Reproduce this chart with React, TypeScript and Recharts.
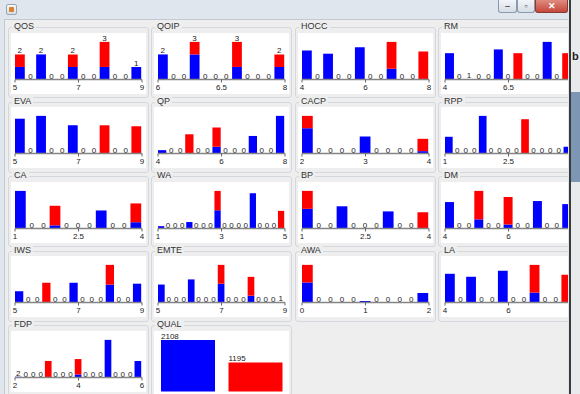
import { BarChart, ComposedChart, Bar, Line, XAxis, YAxis, LabelList, Cell } from "recharts";

// Per-bin counts, blue series stacked under red series
const QOS_BLUE = [1, 0, 2, 0, 0, 1, 0, 0, 1, 0, 0, 1];
const QOS_RED = [1, 0, 0, 0, 0, 1, 0, 0, 2, 0, 0, 0];
const QOS_TICKS = ["5", "7", "9"];

const QOIP_BLUE = [2, 0, 0, 2, 0, 0, 0, 1, 0, 0, 0, 1];
const QOIP_RED = [0, 0, 0, 1, 0, 0, 0, 2, 0, 0, 0, 1];
const QOIP_TICKS = ["6", "6.5", "8"];

const HOCC_BLUE = [27, 0, 24, 0, 0, 30, 0, 0, 10, 0, 0, 0];
const HOCC_RED = [0, 0, 0, 0, 0, 0, 0, 0, 25, 0, 0, 26];
const HOCC_TICKS = ["4", "6", "8"];

const RM_BLUE = [56, 0, 1, 0, 0, 64, 0, 0, 0, 0, 80, 0, 0];
const RM_RED = [0, 0, 0, 0, 0, 0, 0, 56, 0, 0, 0, 0, 56];
const RM_TICKS = ["4", "6.5"];

const EVA_BLUE = [37, 0, 40, 0, 0, 30, 0, 0, 0, 0, 0, 0];
const EVA_RED = [0, 0, 0, 0, 0, 0, 0, 0, 30, 0, 0, 29];
const EVA_TICKS = ["5", "7", "9"];

const QP_BLUE = [4, 0, 0, 0, 0, 0, 8, 0, 0, 0, 21, 0, 0, 45];
const QP_RED = [0, 0, 0, 23, 0, 0, 23, 0, 0, 0, 0, 0, 0, 0];
const QP_TICKS = ["4", "6", "8"];

const CACP_BLUE = [43, 0, 0, 0, 0, 29, 0, 0, 0, 0, 4];
const CACP_RED = [21, 0, 0, 0, 0, 0, 0, 0, 0, 0, 21];
const CACP_TICKS = ["2", "3", "4"];

const RPP_BLUE = [20, 0, 0, 0, 45, 0, 0, 0, 0, 0, 0, 0, 0, 0, 8];
const RPP_RED = [0, 0, 0, 0, 0, 0, 0, 0, 0, 41, 0, 0, 0, 0, 0];
const RPP_TICKS = ["1", "2.5"];

const CA_BLUE = [48, 0, 0, 4, 0, 0, 0, 23, 0, 0, 8];
const CA_RED = [0, 0, 0, 25, 0, 0, 0, 0, 0, 0, 24];
const CA_TICKS = ["1", "2.5", "4"];

const WA_BLUE = [4, 0, 0, 0, 11, 0, 0, 0, 31, 0, 0, 0, 0, 60, 0, 0, 0, 0];
const WA_RED = [0, 0, 0, 0, 0, 0, 0, 0, 33, 0, 0, 0, 0, 0, 0, 0, 0, 30];
const WA_TICKS = ["1", "3", "5"];

const BP_BLUE = [23, 0, 0, 26, 0, 0, 0, 20, 0, 0, 0];
const BP_RED = [21, 0, 0, 0, 0, 0, 0, 0, 0, 0, 19];
const BP_TICKS = ["1", "2.5", "4"];

const DM_BLUE = [26, 0, 0, 9, 0, 0, 4, 0, 0, 27, 0, 0, 24];
const DM_RED = [0, 0, 0, 28, 0, 0, 27, 0, 0, 0, 0, 0, 0];
const DM_TICKS = ["4", "6"];

const IWS_BLUE = [12, 0, 0, 0, 0, 0, 21, 0, 0, 0, 19, 0, 0, 20];
const IWS_RED = [0, 0, 0, 21, 0, 0, 0, 0, 0, 0, 21, 0, 0, 0];
const IWS_TICKS = ["5", "7", "9"];

const EMTE_BLUE = [42, 0, 0, 0, 54, 0, 0, 0, 44, 0, 0, 0, 16, 0, 0, 0, 1];
const EMTE_RED = [0, 0, 0, 0, 0, 0, 0, 0, 44, 0, 0, 0, 44, 0, 0, 0, 0];
const EMTE_TICKS = ["5", "7", "9"];

const AWA_BLUE = [57, 0, 0, 0, 0, 4, 0, 0, 0, 0, 27];
const AWA_RED = [50, 0, 0, 0, 0, 0, 0, 0, 0, 0, 0];
const AWA_TICKS = ["0", "1", "2"];

const LA_BLUE = [29, 0, 26, 0, 0, 32, 0, 0, 10, 0, 0, 0];
const LA_RED = [0, 0, 0, 0, 0, 0, 0, 0, 28, 0, 0, 28];
const LA_TICKS = ["4", "6"];

const FDP_BLUE = [2, 0, 0, 0, 0, 0, 0, 0, 8, 0, 0, 0, 100, 0, 0, 0, 44];
const FDP_RED = [0, 0, 0, 0, 44, 0, 0, 0, 41, 0, 0, 0, 0, 0, 0, 0, 0];
const FDP_TICKS = ["2", "4", "6"];

const QUAL_VALUES = [2108, 1195];

const HISTOGRAMS = [
  { title: "QOS", blue: QOS_BLUE, red: QOS_RED, ticks: QOS_TICKS },
  { title: "QOIP", blue: QOIP_BLUE, red: QOIP_RED, ticks: QOIP_TICKS },
  { title: "HOCC", blue: HOCC_BLUE, red: HOCC_RED, ticks: HOCC_TICKS },
  { title: "RM", blue: RM_BLUE, red: RM_RED, ticks: RM_TICKS },
  { title: "EVA", blue: EVA_BLUE, red: EVA_RED, ticks: EVA_TICKS },
  { title: "QP", blue: QP_BLUE, red: QP_RED, ticks: QP_TICKS },
  { title: "CACP", blue: CACP_BLUE, red: CACP_RED, ticks: CACP_TICKS },
  { title: "RPP", blue: RPP_BLUE, red: RPP_RED, ticks: RPP_TICKS },
  { title: "CA", blue: CA_BLUE, red: CA_RED, ticks: CA_TICKS },
  { title: "WA", blue: WA_BLUE, red: WA_RED, ticks: WA_TICKS },
  { title: "BP", blue: BP_BLUE, red: BP_RED, ticks: BP_TICKS },
  { title: "DM", blue: DM_BLUE, red: DM_RED, ticks: DM_TICKS },
  { title: "IWS", blue: IWS_BLUE, red: IWS_RED, ticks: IWS_TICKS },
  { title: "EMTE", blue: EMTE_BLUE, red: EMTE_RED, ticks: EMTE_TICKS },
  { title: "AWA", blue: AWA_BLUE, red: AWA_RED, ticks: AWA_TICKS },
  { title: "LA", blue: LA_BLUE, red: LA_RED, ticks: LA_TICKS },
  { title: "FDP", blue: FDP_BLUE, red: FDP_RED, ticks: FDP_TICKS },
];

const COL_X = [8, 151, 295, 438];
const ROW_Y = [27, 101.6, 176.2, 250.8, 325.4];
const CHART_W = 135;
const CHART_H = 61;
const FONT = '"Liberation Sans", Arial, sans-serif';

function Frame({ title, x, y }: { title: string; x: number; y: number }) {
  return (
    <>
      <div
        style={{
          position: "absolute",
          left: x,
          top: y,
          width: 139,
          height: 69,
          border: "1px solid #d3d8de",
          borderRadius: 3,
        }}
      />
      <div
        style={{
          position: "absolute",
          left: x + 4,
          top: y - 6,
          padding: "0 2px",
          background: "#eeeeee",
          font: `9px ${FONT}`,
          lineHeight: "11px",
          color: "#333",
        }}
      >
        {title}
      </div>
    </>
  );
}

// counts of 3 or less are printed just above the stack (zeros sit on the axis)
const renderTotal = (p: any) => {
  const key = `t${p.index}`;
  if (p.payload.total > 3 || p.cx == null) return <g key={key} />;
  return (
    <text key={key} x={p.cx - 0.5} y={p.cy - 1} textAnchor="middle" fontSize={8} fontFamily={FONT} fill="#222">
      {p.payload.total}
    </text>
  );
};

function Histogram({ title, blue, red, ticks, index }: any) {
  const col = index % 4;
  const row = Math.floor(index / 4);
  const x = COL_X[col];
  const y = ROW_Y[row];
  const n = blue.length;
  const rows = blue.map((b: number, i: number) => ({ x: i + 0.5, blue: b, red: red[i], total: b + red[i] }));
  const max = Math.max(...rows.map((r: any) => r.total));
  const binW = (CHART_W - 8) / n;
  const tickPos = [0, n / 2, n].slice(0, ticks.length);

  return (
    <>
      <Frame title={title} x={x} y={y} />
      <div style={{ position: "absolute", left: x + 3, top: y + 5.5, width: CHART_W, height: CHART_H, background: "#fff" }}>
        <ComposedChart width={CHART_W} height={CHART_H} data={rows} margin={{ top: 7, right: 4, bottom: 0, left: 4 }}>
          <XAxis
            type="number"
            dataKey="x"
            domain={[0, n]}
            ticks={tickPos}
            interval={0}
            tickFormatter={(_v: number, i: number) => ticks[i]}
            height={14.5}
            tickSize={3}
            tickMargin={2}
            axisLine={{ stroke: "#858585", strokeWidth: 1.5 }}
            tickLine={{ stroke: "#666" }}
            tick={{ fontSize: 8, fill: "#222", fontFamily: FONT }}
          />
          <YAxis hide domain={[0, max * 1.05]} />
          <Bar dataKey="blue" stackId="s" fill="#0000ff" barSize={binW - 0.8} isAnimationActive={false} />
          <Bar dataKey="red" stackId="s" fill="#ff0000" barSize={binW - 0.8} isAnimationActive={false} />
          <Line
            dataKey="total"
            stroke="transparent"
            strokeWidth={0}
            dot={renderTotal}
            activeDot={false}
            legendType="none"
            isAnimationActive={false}
          />
        </ComposedChart>
      </div>
    </>
  );
}

const QUAL_COLORS = ["#0000ff", "#ff0000"];

function Qual() {
  const x = COL_X[1];
  const y = ROW_Y[4];
  const rows = QUAL_VALUES.map((v, i) => ({ k: i, v }));
  const max = Math.max(...QUAL_VALUES);
  return (
    <>
      <Frame title="QUAL" x={x} y={y} />
      <div style={{ position: "absolute", left: x + 3, top: y + 5.5, width: CHART_W, height: 64, background: "#fff" }}>
        <BarChart width={CHART_W} height={64} data={rows} margin={{ top: 6.5, right: 0, bottom: 3.4, left: 0 }} barCategoryGap={7}>
          <XAxis dataKey="k" hide />
          <YAxis hide domain={[0, max * 1.05]} />
          <Bar dataKey="v" isAnimationActive={false}>
            {rows.map((r) => (
              <Cell key={r.k} fill={QUAL_COLORS[r.k]} />
            ))}
            <LabelList
              dataKey="v"
              content={(p: any) => (
                <text x={p.x} y={p.y - 1} fontSize={8} fontFamily={FONT} fill="#222">
                  {p.value}
                </text>
              )}
            />
          </Bar>
        </BarChart>
      </div>
    </>
  );
}

function WinButton({ left, width, close, children }: any) {
  return (
    <div
      style={{
        position: "absolute",
        left,
        top: 0,
        width,
        height: 13,
        boxSizing: "border-box",
        border: close ? "1px solid #8a3a33" : "1px solid #8c9aab",
        borderTop: "none",
        borderRadius: "0 0 3px 3px",
        background: close ? "linear-gradient(#e08a7f, #c4483b)" : "linear-gradient(#f2f5f8, #d5dde6)",
        color: close ? "#fff" : "#555",
        font: `bold 9px ${FONT}`,
        textAlign: "center",
        lineHeight: "12px",
      }}
    >
      {children}
    </div>
  );
}

export default function App() {
  return (
    <div style={{ position: "absolute", left: 0, top: 0, width: 580, height: 394, overflow: "hidden", background: "#d8dce1" }}>
      {/* whatever sits behind the window on the right */}
      <div style={{ position: "absolute", left: 571, top: 0, width: 9, height: 394, background: "#e9eaec" }} />
      <div style={{ position: "absolute", left: 571, top: 92, width: 9, height: 90, background: "#7d96b3" }} />
      <div style={{ position: "absolute", left: 572, top: 50, font: `bold 11px ${FONT}`, color: "#222" }}>b</div>

      {/* window */}
      <div style={{ position: "absolute", left: 0, top: 0, width: 569, height: 394, background: "#dfe6ee", borderRight: "2px solid #3b3b3b" }}>
        <div
          style={{
            position: "absolute",
            left: 6,
            top: 4,
            width: 11,
            height: 11,
            boxSizing: "border-box",
            border: "1px solid #9aa6b4",
            borderRadius: 2,
            background: "linear-gradient(#f7f7f7, #d9dde2)",
          }}
        >
          <div style={{ position: "absolute", left: 2, top: 2, width: 5, height: 5, background: "#d9822b", borderRadius: 1 }} />
        </div>
        <WinButton left={498} width={19}>
          –
        </WinButton>
        <WinButton left={517} width={18}>
          ▫
        </WinButton>
        <WinButton left={535} width={33} close>
          ✕
        </WinButton>

        <div
          style={{
            position: "absolute",
            left: 4,
            top: 19,
            width: 563,
            height: 380,
            background: "#eeeeee",
            borderLeft: "1px solid #c3c9d0",
            borderTop: "1px solid #c3c9d0",
            overflow: "hidden",
          }}
        >
          <div style={{ position: "absolute", left: -5, top: -20 }}>
            {HISTOGRAMS.map((h, i) => (
              <Histogram key={h.title} {...h} index={i} />
            ))}
            <Qual />
          </div>
        </div>
      </div>
    </div>
  );
}
